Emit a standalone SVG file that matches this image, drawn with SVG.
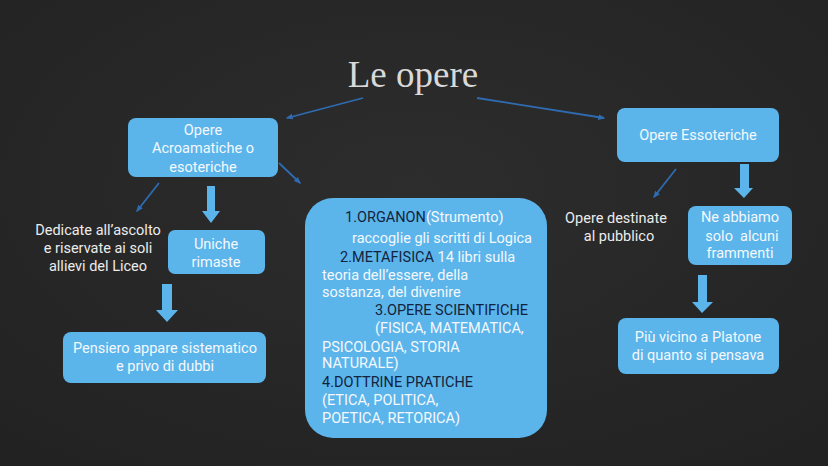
<svg xmlns="http://www.w3.org/2000/svg" width="828" height="466" viewBox="0 0 828 466">
<defs>
<marker id="ah" viewBox="0 0 10 10" refX="8" refY="5" markerWidth="4" markerHeight="4" orient="auto">
<path d="M0,1 L10,5 L0,9 z" fill="#2f6bb0"/>
</marker>
<radialGradient id="bg" cx="50%" cy="40%" r="75%">
<stop offset="0" stop-color="#2d2d2d"/>
<stop offset="1" stop-color="#222222"/>
</radialGradient>
</defs>
<style>
.box{fill:#5bb5eb;}
.t{font-family:Roboto,"Noto Sans",sans-serif;font-size:14.5px;fill:#f4f8fc;text-anchor:middle;}
.w{font-family:Roboto,"Noto Sans",sans-serif;font-size:14.5px;fill:#ececec;text-anchor:middle;}
.c{font-family:Roboto,"Noto Sans",sans-serif;font-size:14.5px;fill:#f4f8fc;}
.d{fill:#14233d;}
.ln{stroke:#2f6bb0;stroke-width:1.8;fill:none;marker-end:url(#ah);}
.ba{fill:#5bb5eb;}
</style>
<rect width="828" height="466" fill="url(#bg)"/>
<text id="title" x="413" y="87" font-family="'Liberation Serif','DejaVu Serif',serif" font-size="37" fill="#d9d9d9" text-anchor="middle">Le opere</text>

<g id="connectors">
<line class="ln" x1="363" y1="98" x2="287" y2="118"/>
<line class="ln" x1="477" y1="98" x2="604" y2="118"/>
<line class="ln" x1="159" y1="183" x2="137" y2="211"/>
<line class="ln" x1="279" y1="163" x2="300" y2="183"/>
<line class="ln" x1="676" y1="169" x2="654" y2="197"/>
<path class="ba" d="M207,186 H215 V211 H220 L211,223 L202,211 H207 Z"/>
<path class="ba" d="M162,284 H172 V310 H178 L167,322 L156,310 H162 Z"/>
<path class="ba" d="M740,164 H749 V188 H753 L744,198 L734,188 H740 Z"/>
<path class="ba" d="M698,275 H707 V302 H713 L702,313 L692,302 H698 Z"/>
</g>

<g id="acroamatiche">
<rect class="box" x="128" y="118" width="150" height="59" rx="8"/>
<text class="t" x="203" y="135">Opere</text>
<text class="t" x="203" y="153">Acroamatiche o</text>
<text class="t" x="203" y="172">esoteriche</text>
</g>

<g id="dedicate">
<text class="w" x="98" y="235">Dedicate all’ascolto</text>
<text class="w" x="98" y="253">e riservate ai soli</text>
<text class="w" x="98" y="271">allievi del Liceo</text>
</g>

<g id="uniche">
<rect class="box" x="168" y="230" width="97" height="44" rx="7"/>
<text class="t" x="216" y="249">Uniche</text>
<text class="t" x="216" y="267">rimaste</text>
</g>

<g id="pensiero">
<rect class="box" x="63" y="332" width="203" height="51" rx="8"/>
<text class="t" x="165" y="353">Pensiero appare sistematico</text>
<text class="t" x="165" y="371">e privo di dubbi</text>
</g>

<g id="opere-list">
<rect class="box" x="305" y="198" width="242" height="240" rx="28"/>
<text class="c" x="345" y="222"><tspan class="d">1.ORGANON</tspan>(Strumento)</text>
<text class="c" x="352" y="243">raccoglie gli scritti di Logica</text>
<text class="c" x="340" y="262"><tspan class="d">2.METAFISICA</tspan> 14 libri sulla</text>
<text class="c" x="322" y="280">teoria dell’essere, della</text>
<text class="c" x="322" y="297">sostanza, del divenire</text>
<text class="c d" x="375" y="315">3.OPERE SCIENTIFICHE</text>
<text class="c" x="375" y="333">(FISICA, MATEMATICA,</text>
<text class="c" x="322" y="352">PSICOLOGIA, STORIA</text>
<text class="c" x="322" y="368">NATURALE)</text>
<text class="c d" x="322" y="387">4.DOTTRINE PRATICHE</text>
<text class="c" x="322" y="405">(ETICA, POLITICA,</text>
<text class="c" x="322" y="423">POETICA, RETORICA)</text>
</g>

<g id="essoteriche">
<rect class="box" x="617" y="108" width="162" height="54" rx="8"/>
<text class="t" x="698" y="140">Opere Essoteriche</text>
</g>

<g id="destinate">
<text class="w" x="616" y="223">Opere destinate</text>
<text class="w" x="619" y="241">al pubblico</text>
</g>

<g id="frammenti">
<rect class="box" x="688" y="206" width="104" height="59" rx="8"/>
<text class="t" x="740" y="222">Ne abbiamo</text>
<text class="t" x="742" y="241" xml:space="preserve">solo  alcuni</text>
<text class="t" x="740" y="258">frammenti</text>
</g>

<g id="platone">
<rect class="box" x="618" y="318" width="161" height="56" rx="8"/>
<text class="t" x="698" y="342">Più vicino a Platone</text>
<text class="t" x="698" y="360">di quanto si pensava</text>
</g>
</svg>
